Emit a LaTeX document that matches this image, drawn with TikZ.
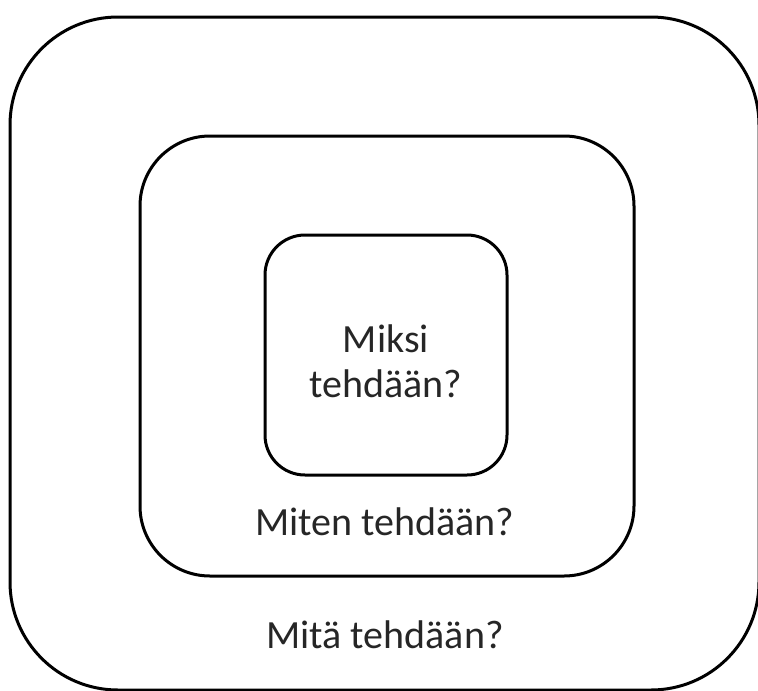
\documentclass[tikz,border=0pt]{standalone}
\usepackage{fontspec}
\setmainfont{Carlito}
\begin{document}
\begin{tikzpicture}[x=1pt,y=-1pt,
  frame/.style={draw=black,line width=3pt},
  lbl/.style={font=\fontsize{40}{45}\selectfont,text=black!85,align=center,inner sep=0pt}]
\useasboundingbox (0,0) rectangle (758,691);
\clip (0,0) rectangle (758,691);
\draw[frame,rounded corners=108pt] (10,17) rectangle (759,690);
\draw[frame,rounded corners=70pt] (140,136) rectangle (634,576);
\draw[frame,rounded corners=40pt] (265,235) rectangle (507,475);
\node[lbl] (inner) at (386,361) {Miksi\\tehdään?};
\node[lbl] (middle) at (385,522) {Miten tehdään?};
\node[lbl] (outer) at (385,635) {Mitä tehdään?};
\end{tikzpicture}
\end{document}
